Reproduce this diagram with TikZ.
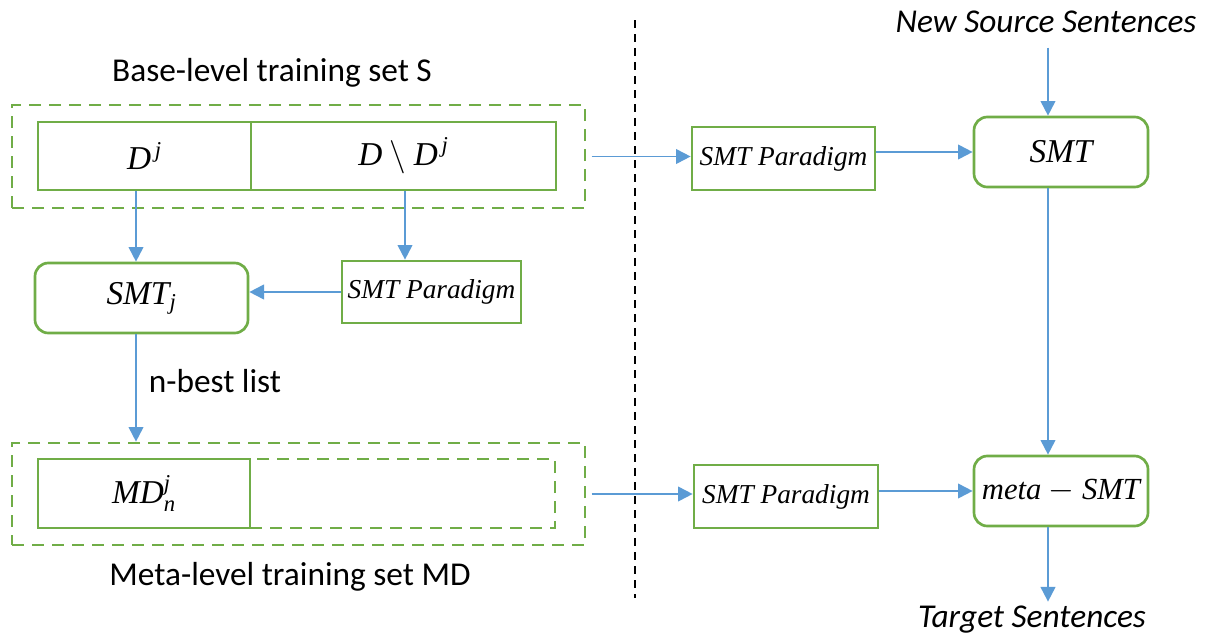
\documentclass[tikz,border=0pt]{standalone}
\usepackage[no-math]{fontspec}
\setmainfont{Carlito}
\newfontfamily\mf{Liberation Serif}
\usetikzlibrary{arrows.meta}
\definecolor{gr}{HTML}{70AD47}
\definecolor{bl}{HTML}{5B9BD5}
\newcommand\ital[1]{{\mf\itshape #1}}
\newcommand\smallit[1]{\hbox{\mf\itshape\fontsize{17}{17}\selectfont #1}}
\tikzset{
  solidbox/.style={draw=gr, line width=2pt, inner sep=0pt},
  roundbox/.style={solidbox, rounded corners=10pt},
  dashbox/.style={draw=gr, line width=2pt, dash pattern=on 9pt off 6pt, inner sep=0pt},
  arr/.style={draw=bl, line width=1.4pt, -{Triangle[length=11pt,width=11pt]}},
  mtxt/.style={font=\fontsize{25}{28}\selectfont},
  ptxt/.style={font=\fontsize{20.5}{24}\selectfont},
  lbl/.style={font=\fontsize{25}{28}\selectfont},
  ilbl/.style={font=\fontsize{25}{28}\selectfont\itshape},
}
\begin{document}
\begin{tikzpicture}[x=0.75pt,y=-0.75pt]
\useasboundingbox (0,0) rectangle (1208,639);
% left top
\node[dashbox, minimum width=573*0.75pt, minimum height=103*0.75pt] (outerS) at (298.5,156.5) {};
\node[solidbox, minimum width=213*0.75pt, minimum height=68*0.75pt, mtxt] (dj) at (144.5,156) {$\hbox{\ital{D}}^{\,\smallit{j}}$};
\node[solidbox, minimum width=305*0.75pt, minimum height=68*0.75pt, mtxt] (ddj) at (403.5,156) {$\hbox{\ital{D}}\setminus\hbox{\ital{D}}^{\,\smallit{j}}$};
\node[lbl] (baselbl) at (272,73) {Base-level training set S};
\node[roundbox, minimum width=213*0.75pt, minimum height=70*0.75pt, mtxt] (smtj) at (141.5,298) {$\hbox{\ital{SMT}}_{\smallit{j}}$};
\node[solidbox, minimum width=179*0.75pt, minimum height=62*0.75pt, ptxt] (parj) at (431.5,292) {\ital{SMT Paradigm}};
\node[lbl] (nbest) at (215,381) {n-best list};
% left bottom
\node[dashbox, minimum width=573*0.75pt, minimum height=102*0.75pt] (outerMD) at (298.5,494) {};
\node[dashbox, minimum width=305*0.75pt, minimum height=69*0.75pt] (mdrest) at (402.5,493.5) {};
\node[solidbox, fill=white, minimum width=212*0.75pt, minimum height=69*0.75pt, mtxt] (md) at (144,493.5) {$\hbox{\ital{MD}}^{\smallit{j}}_{\smallit{n}}$};
\node[lbl] (metalbl) at (290,577) {Meta-level training set MD};
% separator
\coordinate (sepT) at (635,20);
\coordinate (sepB) at (635,598);
\draw[black, line width=1.4pt, dash pattern=on 6pt off 4.5pt] (sepT) -- (sepB);
% right
\node[ilbl] (newsrc) at (1046,22) {New Source Sentences};
\node[ilbl] (target) at (1032,620) {Target Sentences};
\node[solidbox, minimum width=183*0.75pt, minimum height=63*0.75pt, ptxt] (par1) at (783.5,158.5) {\ital{SMT Paradigm}};
\node[roundbox, minimum width=174*0.75pt, minimum height=70*0.75pt, mtxt] (smt) at (1061,152) {\ital{SMT}};
\node[solidbox, minimum width=184*0.75pt, minimum height=63*0.75pt, ptxt] (par2) at (786,496.5) {\ital{SMT Paradigm}};
\node[roundbox, minimum width=174*0.75pt, minimum height=70*0.75pt, font=\fontsize{23}{26}\selectfont] (meta) at (1061,491) {$\hbox{\ital{meta}}-\hbox{\ital{SMT}}$};
% arrows
\path[arr] (dj.south -| 136,0) -- (smtj.north -| 136,0);
\path[arr] (ddj.south -| 405,0) -- (parj.north -| 405,0);
\path[arr] (parj.west) -- (smtj.east |- parj.west);
\path[arr] (smtj.south -| 136,0) -- (outerMD.north -| 136,0);
\path[arr] ([xshift=4pt]outerS.east) -- (outerS.east -| par1.west);
\path[arr] (par1.east |- smt.west) -- (smt.west);
\path[arr] ([xshift=4pt]outerMD.east) -- (outerMD.east -| par2.west);
\path[arr] (par2.east |- meta.west) -- (meta.west);
\path[arr] (newsrc.south -| 1048,0) ++(0,10) -- (smt.north -| 1048,0);
\path[arr] (smt.south -| 1048,0) -- (meta.north -| 1048,0);
\path[arr] (meta.south -| 1048,0) -- (target.north -| 1048,0);
\end{tikzpicture}
\end{document}
